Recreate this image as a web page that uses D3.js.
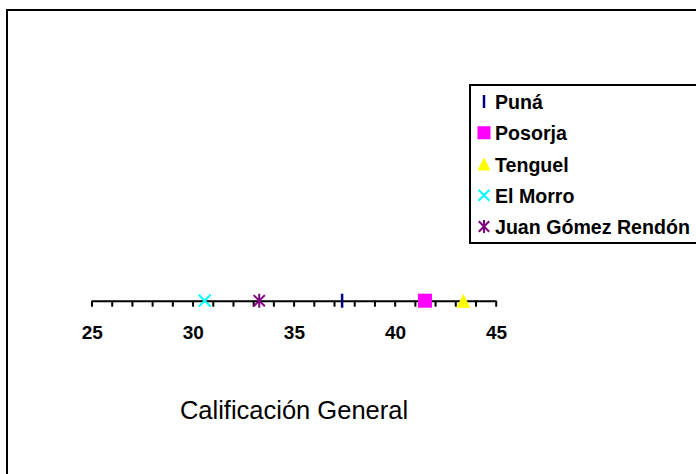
<!DOCTYPE html>
<html><head><meta charset="utf-8">
<script src="https://cdn.jsdelivr.net/npm/d3@7"></script>
<style>body{margin:0;background:#fff}svg{display:block}</style>
</head><body>
<svg id="c" width="696" height="474"></svg>
<script>
const series = ["Puná", "Posorja", "Tenguel", "El Morro", "Juan Gómez Rendón"];
const values = [37.4, 41.5, 43.4, 30.6, 33.3];
const colors = ["#000080", "#FF00FF", "#FFFF00", "#00FFFF", "#800080"];
const markers = ["line", "square", "triangle", "x", "star"];
const tickValues = d3.range(25, 46, 1);
const labelValues = [25, 30, 35, 40, 45];
const axisTitle = "Calificación General";

const svg = d3.select("#c");
// outer frame
svg.append("rect").attr("x", 7).attr("y", 10).attr("width", 720).attr("height", 500)
  .attr("fill", "none").attr("stroke", "#000").attr("stroke-width", 2);

const x = d3.scaleLinear().domain([25, 45]).range([91.5, 495.7]);
const axisY = 300.7;

const ax = svg.append("g").attr("transform", `translate(0,${axisY})`)
  .call(d3.axisBottom(x).tickValues(tickValues).tickSize(6).tickSizeOuter(0).tickFormat(""));
ax.select(".domain").attr("stroke", "#000").attr("stroke-width", 2);
ax.selectAll(".tick line").attr("stroke", "#000").attr("stroke-width", 2);

svg.append("g").selectAll("text").data(labelValues).join("text")
  .attr("x", d => x(d) + 0.8).attr("y", 339).attr("text-anchor", "middle")
  .attr("font-family", "Liberation Sans, Arial, sans-serif").attr("font-weight", "bold")
  .attr("font-size", 19).text(d => d);

svg.append("text").attr("x", 294).attr("y", 419).attr("text-anchor", "middle")
  .attr("font-family", "Liberation Sans, Arial, sans-serif").attr("font-size", 25.5)
  .text(axisTitle);

function drawMarker(g, type, color, s) {
  const h = s / 2;
  if (type === "line") {
    g.append("line").attr("x1", 0).attr("x2", 0).attr("y1", -h).attr("y2", h)
      .attr("stroke", color).attr("stroke-width", 2.5);
  } else if (type === "square") {
    g.append("rect").attr("x", -h).attr("y", -h).attr("width", s).attr("height", s).attr("fill", color);
  } else if (type === "triangle") {
    g.append("path").attr("d", `M0,${-h}L${h},${h}L${-h},${h}Z`).attr("fill", color);
  } else if (type === "x") {
    const k = h * 0.85;
    g.append("path").attr("d", `M${-k},${-k}L${k},${k}M${-k},${k}L${k},${-k}`)
      .attr("stroke", color).attr("stroke-width", 2).attr("fill", "none");
  } else if (type === "star") {
    const k = h * 0.8;
    g.append("path").attr("d", `M${-k},${-k}L${k},${k}M${-k},${k}L${k},${-k}M0,${-h}L0,${h}`)
      .attr("stroke", color).attr("stroke-width", 2).attr("fill", "none");
  }
}

// data markers
series.forEach((s, i) => {
  const g = svg.append("g").attr("transform", `translate(${x(values[i])},${axisY})`);
  drawMarker(g, markers[i], colors[i], 14);
});

// legend
svg.append("rect").attr("x", 470).attr("y", 85).attr("width", 260).attr("height", 158)
  .attr("fill", "#fff").attr("stroke", "#000").attr("stroke-width", 2);
const rowY = d3.scaleLinear().domain([0, 4]).range([101.5, 226.5]);
series.forEach((s, i) => {
  const g = svg.append("g").attr("transform", `translate(484,${rowY(i)})`);
  drawMarker(g, markers[i], colors[i], 13);
  svg.append("text").attr("x", 495).attr("y", rowY(i) + 7.5)
    .attr("font-family", "Liberation Sans, Arial, sans-serif").attr("font-weight", "bold")
    .attr("font-size", 19.6).text(s);
});
</script>
</body></html>
